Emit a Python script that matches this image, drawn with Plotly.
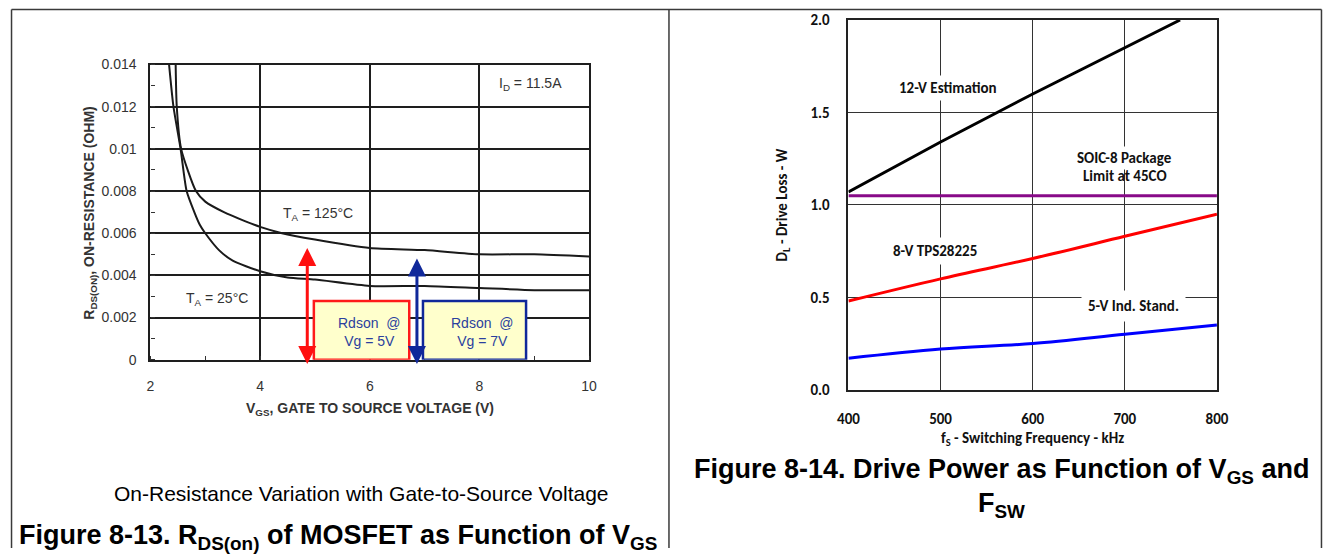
import plotly.graph_objects as go

# ---------------- data: left chart (Rds(on) vs Vgs) ----------------
vgs_25 = [2.34, 2.42, 2.55, 2.66, 2.8, 2.9, 3.0, 3.25, 3.5, 4.0, 4.5, 5.0, 6.0, 7.0, 8.0, 9.0, 10.0]
rds_25 = [0.014, 0.012, 0.010, 0.008, 0.0070, 0.0064, 0.0060, 0.0052, 0.0047, 0.0042, 0.0039, 0.0038,
          0.0035, 0.0035, 0.0034, 0.0033, 0.0033]
vgs_125 = [2.46, 2.48, 2.56, 2.83, 3.0, 3.34, 3.7, 4.0, 4.4, 5.0, 6.0, 7.0, 8.0, 9.0, 10.0]
rds_125 = [0.014, 0.012, 0.010, 0.008, 0.0075, 0.0070, 0.0066, 0.0063, 0.0060, 0.0057, 0.0053,
           0.0052, 0.0050, 0.0050, 0.0049]
left_x_ticks = [2, 4, 6, 8, 10]
left_y_ticks = [0, 0.002, 0.004, 0.006, 0.008, 0.010, 0.012, 0.014]
left_y_ticktext = ["0", "0.002", "0.004", "0.006", "0.008", "0.01", "0.012", "0.014"]
arrow_vg = [4.86, 6.86]
arrow_top = [0.0053, 0.0048]
arrow_colors = ["#ff1010", "#10289a"]
box_x = [[4.98, 6.72], [6.97, 8.85]]
box_text_x = [5.98, 8.05]
box_texts = ["Rdson  @<br>Vg = 5V", "Rdson  @<br>Vg = 7V"]

# ---------------- data: right chart (drive loss vs fsw) ----------------
fsw = [400, 500, 600, 700, 800]
loss_12v_f = [400, 500, 600, 700, 760]
loss_12v = [1.07, 1.34, 1.60, 1.85, 2.0]
loss_8v = [0.48, 0.60, 0.71, 0.83, 0.95]
loss_5v = [0.17, 0.22, 0.25, 0.30, 0.35]
soic_limit = [1.05, 1.05, 1.05, 1.05, 1.05]

W, H = 1334, 557
# mapping from reference-picture pixels to figure pixels (the capture frames the page
# with a small border and rescales it, measured from earlier renders)
SX, OX = 0.9846, 9.8
SY, OY = 0.967, 8.5

def px(X):
    return min(max(((X - OX) / SX) / W, 0.0004), 0.9996)

def py(Y):
    return min(max(1 - ((Y - OY) / SY) / H, 0.0009), 0.9991)

ARIAL = "Arial, Liberation Sans, sans-serif"
CAL = "Carlito, Lato, Open Sans, sans-serif"

fig = go.Figure()

# left chart curves
for xs, ys in [(vgs_125, rds_125), (vgs_25, rds_25)]:
    fig.add_trace(go.Scatter(x=xs, y=ys, mode="lines",
                             line=dict(color="#1a1a1a", width=2, shape="spline", smoothing=0.6),
                             xaxis="x", yaxis="y", showlegend=False, hoverinfo="skip"))

# right chart curves
fig.add_trace(go.Scatter(x=loss_12v_f, y=loss_12v, mode="lines", line=dict(color="#000000", width=3),
                         xaxis="x2", yaxis="y2", showlegend=False))
fig.add_trace(go.Scatter(x=fsw, y=soic_limit, mode="lines", line=dict(color="#880a88", width=3),
                         xaxis="x2", yaxis="y2", showlegend=False))
fig.add_trace(go.Scatter(x=fsw, y=loss_8v, mode="lines", line=dict(color="#ff0000", width=3, shape="spline"),
                         xaxis="x2", yaxis="y2", showlegend=False))
fig.add_trace(go.Scatter(x=fsw, y=loss_5v, mode="lines", line=dict(color="#0000ff", width=3, shape="spline"),
                         xaxis="x2", yaxis="y2", showlegend=False))

shapes = []
annotations = []

def note(x, y, text, font, xref="paper", yref="paper", **kw):
    d = dict(x=x, y=y, xref=xref, yref=yref, text=text, showarrow=False, font=font,
             xanchor="center", yanchor="middle")
    d.update(kw)
    return d

# Rdson boxes
for (x0, x1), col in zip(box_x, ["#ff1a1a", "#10289a"]):
    shapes.append(dict(type="rect", xref="x", yref="y", x0=x0, x1=x1, y0=0.0, y1=0.00279,
                       fillcolor="#ffffcc", line=dict(color=col, width=2.5), layer="above"))
for tx, tt in zip(box_text_x, box_texts):
    annotations.append(note(tx, 0.00132, tt, dict(family=ARIAL, size=14, color="#2b3f9e"),
                            xref="x", yref="y", align="center"))
# double arrows
for ax_, top, col in zip(arrow_vg, arrow_top, arrow_colors):
    annotations.append(dict(x=ax_, y=top, ax=ax_, ay=-0.00027, xref="x", yref="y", axref="x", ayref="y",
                            text="", showarrow=True, arrowhead=2, startarrowhead=2, arrowside="end+start",
                            arrowsize=1.2, startarrowsize=1.2, arrowwidth=3, arrowcolor=col))

lf = dict(family=ARIAL, size=14, color="#333")
lfb = dict(family=ARIAL, size=14, color="#333", weight="bold")
cap = dict(family=ARIAL, size=27, color="#000", weight="bold")
cb = dict(family=CAL, size=15, color="#111", weight="bold")

# left chart labels
annotations += [
    note(px(530), py(83), "I<sub>D</sub> = 11.5A", lf),
    note(px(317), py(213), "T<sub>A</sub> = 125°C", lf),
    note(px(216), py(298), "T<sub>A</sub> = 25°C", lf),
    note(px(369), py(408), "V<sub>GS</sub>, GATE TO SOURCE VOLTAGE (V)", lfb),
    note(px(89), py(213), "R<sub>DS(ON)</sub>, ON-RESISTANCE (OHM)", lfb, textangle=-90),
    note(px(361), py(493), "On-Resistance Variation with Gate-to-Source Voltage",
         dict(family=ARIAL, size=21, color="#000")),
    note(px(337), py(536), "Figure 8-13. R<sub>DS(on)</sub> of MOSFET as Function of V<sub>GS</sub>", cap),
]

# right chart labels
annotations += [
    note(508, 1.632, "12-V Estimation", cb, xref="x2", yref="y2", bgcolor="white", borderpad=3),
    note(700, 1.256, "SOIC-8 Package", cb, xref="x2", yref="y2", bgcolor="white", borderpad=2),
    note(700, 1.158, "Limit at 45CO", cb, xref="x2", yref="y2"),
    note(494, 0.75, "8-V TPS28225", cb, xref="x2", yref="y2", bgcolor="white", borderpad=4),
    note(709, 0.452, "5-V Ind. Stand.", cb, xref="x2", yref="y2", bgcolor="white", borderpad=6),
    note(px(1033), py(438), "f<sub>S</sub> - Switching Frequency - kHz", cb),
    note(px(783), py(204), "D<sub>L</sub> - Drive Loss - W", cb, textangle=-90),
    note(px(1002), py(470), "Figure 8-14. Drive Power as Function of V<sub>GS</sub> and", cap),
    note(px(1002), py(504), "F<sub>SW</sub>", cap),
]

# outer table borders (clamped to the drawable area)
bc = "#3a3a3a"
shapes += [
    dict(type="line", xref="paper", yref="paper", x0=px(3), x1=px(1331), y0=py(3), y1=py(3), line=dict(color=bc, width=1.5)),
    dict(type="line", xref="paper", yref="paper", x0=px(3), x1=px(3), y0=0, y1=py(3), line=dict(color=bc, width=1.5)),
    dict(type="line", xref="paper", yref="paper", x0=px(669), x1=px(669), y0=0, y1=py(3), line=dict(color=bc, width=1.5)),
    dict(type="line", xref="paper", yref="paper", x0=px(1331), x1=px(1331), y0=0, y1=py(3), line=dict(color=bc, width=1.5)),
]

tick2 = dict(family=CAL, size=15, color="#111", weight="bold")

fig.update_layout(
    width=W, height=H, margin=dict(l=0, r=0, t=0, b=0),
    paper_bgcolor="white", plot_bgcolor="white", showlegend=False,
    xaxis=dict(domain=[px(149.5), px(589)], range=[2, 10], tickvals=left_x_ticks,
               showgrid=True, gridcolor="#1e1e1e", gridwidth=2.2, zeroline=False,
               showline=True, mirror=True, linecolor="#1e1e1e", linewidth=2.2,
               ticks="", ticklabelstandoff=12,
               minor=dict(ticks="inside", ticklen=4, tickcolor="#333", dtick=1, showgrid=False),
               tickfont=lf),
    yaxis=dict(domain=[py(359), py(64)], range=[0, 0.014], tickvals=left_y_ticks, ticktext=left_y_ticktext,
               showgrid=True, gridcolor="#1e1e1e", gridwidth=2.2, zeroline=False,
               showline=True, mirror=True, linecolor="#1e1e1e", linewidth=2.2,
               ticks="", ticklabelstandoff=9,
               minor=dict(ticks="inside", ticklen=4, tickcolor="#333", dtick=0.001, showgrid=False),
               tickfont=lf),
    xaxis2=dict(domain=[px(848.8), px(1218)], range=[400, 800], dtick=100, anchor="y2",
                showgrid=True, gridcolor="#333", gridwidth=1.3, zeroline=False,
                showline=True, mirror=True, linecolor="#222", linewidth=1.5,
                ticks="", ticklabelstandoff=14, tickfont=tick2),
    yaxis2=dict(domain=[py(389), py(19.5)], range=[0, 2], dtick=0.5, tickformat=".1f", anchor="x2",
                showgrid=True, gridcolor="#333", gridwidth=1.3, zeroline=False,
                showline=True, mirror=True, linecolor="#222", linewidth=1.5,
                ticks="", ticklabelstandoff=14, tickfont=tick2),
    shapes=shapes, annotations=annotations,
)

fig.write_html("out.html", config={"displayModeBar": False},
               post_script="document.body.style.margin='0';")
